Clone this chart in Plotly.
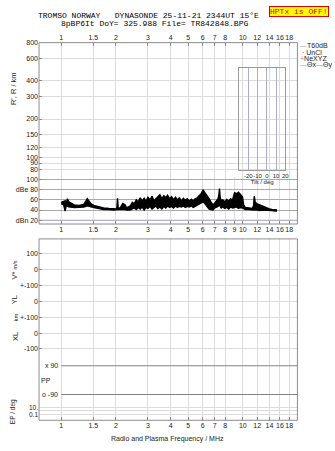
import plotly.graph_objects as go
import math

W, H = 335, 451
def px(x): return x / W
def py(y): return 1 - y / H

# ---------------- data ----------------
freq_ticks = [1, 1.5, 2, 3, 4, 5, 6, 7, 8, 10, 12, 14, 16, 18]
db_freq_ticks = [1, 1.5, 2, 3, 4, 5, 6, 7, 8, 9, 10, 12, 14, 16, 18]
freq_range = [0.754, 19.97]
range_ticks = [80, 90, 100, 120, 150, 200, 300, 400, 600, 800]
range_limits = [70, 800]
db_ticks = [100, 80, 60, 40, 20]
db_tick_labels = ["100", "dBe 80", "60", "40", "dBn 20"]
db_limits = [12.5, 105]
dbn_level = 20
stack_ticks = [300, 200, 100, 0, -100, -200, -300]
stack_labels = ["100", "0", "+-100", "0", "+-100", "0", "-100"]
stack_limits = [-350, 393.75]
pp_levels = [90, -90]
pp_labels = ["x 90", "o -90"]
pp_limits = [-127.2, 145.9]
pp_start = 1.0
ep_ticks = [10, 0.1]
ep_labels = ["10.", "0.1"]
ep_minor = [1]
ep_limits = [-2.714, 3.0]
tilt_ticks = [-20, -10, 0, 10, 20]
tilt_range = [-30, 20]

# amplitude trace (MHz, upper / lower envelope in dB)
amp_freq = [1.00, 1.03, 1.05, 1.06, 1.08, 1.10, 1.18, 1.25, 1.33, 1.39,
            1.42, 1.46, 1.51, 1.61, 1.71, 1.83, 1.94, 2.02, 2.04, 2.06,
            2.12, 2.18, 2.25, 2.29,
            2.40, 2.46, 2.52, 2.59, 2.65, 2.72, 2.79, 2.86, 2.93, 3.00,
            3.08, 3.16, 3.24, 3.32, 3.40, 3.49, 3.58, 3.67, 3.76, 3.85,
            3.95, 4.05, 4.15, 4.26, 4.36, 4.47, 4.59, 4.70, 4.82, 4.94,
            5.07, 5.20, 5.33, 5.46, 5.60, 5.74, 5.89, 6.04, 6.19, 6.34,
            6.50, 6.67, 6.84, 7.01, 7.19, 7.30, 7.38, 7.43, 7.50, 7.60,
            7.75, 7.95, 8.15, 8.35, 8.56, 8.78, 9.00, 9.23, 9.46, 9.70,
            9.95,
            10.10, 10.30, 10.80, 11.26, 11.45, 11.55, 11.70, 11.99, 12.40, 12.77,
            13.10, 13.60, 14.00, 14.48, 15.00, 15.42]
amp_hi = [55, 57, 58, 50, 62, 56, 50, 49, 51, 62,
          58, 52, 49, 46, 44, 43, 43, 42, 63, 42,
          45, 53, 50, 44,
          48, 55, 52, 60, 56, 64, 58, 63, 57, 65,
          60, 67, 58, 62, 66, 70, 62, 68, 64, 69,
          62, 66, 60, 65, 60, 64, 58, 63, 59, 62,
          57, 61, 58, 62, 64, 68, 72, 79, 74, 70,
          63, 56, 50, 54, 58, 62, 70, 82, 65, 58,
          60, 56, 61, 57, 62, 60, 74, 72, 75, 70,
          66,
          50, 45, 44, 43, 48, 67, 55, 52, 50, 48,
          45, 43, 42, 41, 41, 40]
amp_lo = [52, 50, 38, 46, 48, 46, 45, 45, 46, 48,
          47, 46, 45, 43, 41, 41, 40, 41, 41, 41,
          41, 42, 41, 40,
          40, 42, 44, 41, 45, 42, 46, 40, 45, 43,
          47, 42, 46, 48, 43, 46, 42, 47, 44, 48,
          45, 47, 44, 48, 45, 47, 46, 48, 45, 47,
          46, 48, 45, 47, 49, 52, 54, 56, 52, 46,
          42, 41, 40, 44, 46, 47, 50, 52, 47, 44,
          46, 43, 45, 42, 46, 44, 45, 46, 43, 45,
          44,
          42, 41, 41, 40, 40, 41, 40, 40, 39, 40,
          40, 39, 39, 39, 38, 38]

# ---------------- figure ----------------
FONT = "Liberation Sans, Arial, sans-serif"
MONO = "Liberation Mono, DejaVu Sans Mono, monospace"
GRID = "#dcdcdc"
TXT = "#222"

fig = go.Figure()

fig.add_trace(go.Scatter(x=freq_range, y=range_limits, xaxis="x2", yaxis="y",
                         mode="markers", marker=dict(opacity=0), hoverinfo="skip"))
fig.add_trace(go.Scatter(x=freq_range, y=[dbn_level, dbn_level], xaxis="x3", yaxis="y2",
                         mode="lines", line=dict(color="#b4b4f0", width=1)))
fig.add_trace(go.Scatter(x=amp_freq, y=amp_lo, xaxis="x3", yaxis="y2", mode="lines",
                         line=dict(color="black", width=1.4)))
fig.add_trace(go.Scatter(x=amp_freq, y=amp_hi, xaxis="x3", yaxis="y2", mode="lines",
                         line=dict(color="black", width=1.4), fill="tonexty",
                         fillcolor="black"))
fig.add_trace(go.Scatter(x=freq_range, y=[0, 0], xaxis="x", yaxis="y3",
                         mode="markers", marker=dict(opacity=0), hoverinfo="skip"))
fig.add_trace(go.Scatter(x=freq_range, y=[1, 1], xaxis="x", yaxis="y5",
                         mode="markers", marker=dict(opacity=0), hoverinfo="skip"))
for lvl in pp_levels:
    fig.add_trace(go.Scatter(x=[pp_start, freq_range[1]], y=[lvl, lvl], xaxis="x", yaxis="y4",
                             mode="lines", line=dict(color="#808080", width=1)))
fig.add_trace(go.Scatter(x=tilt_range, y=[0, 1], xaxis="x4", yaxis="y6",
                         mode="markers", marker=dict(opacity=0), hoverinfo="skip"))

xdom = [px(39.5), px(301)]
lx = [math.log10(freq_range[0]), math.log10(freq_range[1])]
tickfont = dict(family=FONT, size=7, color=TXT)

common_x = dict(type="log", range=lx, domain=xdom, tickmode="array", tickangle=0,
                showgrid=True, gridcolor=GRID, gridwidth=1, zeroline=False,
                showline=False, ticks="inside", ticklen=3, tickcolor="#888",
                tickfont=tickfont)

fig.update_layout(
    width=W, height=H, margin=dict(l=0, r=0, t=0, b=0),
    paper_bgcolor="white", plot_bgcolor="rgba(0,0,0,0)", showlegend=False,
    xaxis=dict(common_x, anchor="y5", tickvals=freq_ticks,
               ticktext=[str(v) for v in freq_ticks], side="bottom"),
    xaxis2=dict(common_x, anchor="y", tickvals=freq_ticks,
                ticktext=[str(v) for v in freq_ticks], side="top"),
    xaxis3=dict(common_x, anchor="y2", tickvals=db_freq_ticks,
                ticktext=[str(v) for v in db_freq_ticks], side="bottom"),
    xaxis4=dict(range=tilt_range, domain=[px(242), px(288.7)], anchor="y6",
                tickmode="array", tickvals=tilt_ticks, tickangle=0,
                ticktext=[str(v) for v in tilt_ticks], showgrid=True,
                gridcolor="#a8aed0", zeroline=False, showline=True, mirror=True,
                linecolor="#9a9a9a", ticks="", tickfont=dict(family=FONT, size=6, color=TXT),
                title=dict(text="Tilt / deg", font=dict(family=FONT, size=6, color=TXT),
                           standoff=0)),
    yaxis=dict(type="log", range=[math.log10(range_limits[0]), math.log10(range_limits[1])],
               domain=[py(174.4), py(39)], anchor="x2", tickmode="array",
               tickvals=range_ticks, ticktext=[str(v) for v in range_ticks],
               showgrid=True, gridcolor=GRID, zeroline=False, ticks="inside",
               ticklen=3, tickcolor="#888", tickfont=tickfont),
    yaxis2=dict(range=db_limits, domain=[py(222), py(174.4)], anchor="x3",
                tickmode="array", tickvals=db_ticks, ticktext=db_tick_labels,
                showgrid=True, gridcolor="#a8a8a8", zeroline=False, ticks="inside",
                ticklen=3, tickcolor="#888", tickfont=tickfont),
    yaxis3=dict(range=stack_limits, domain=[py(356), py(237)], anchor="x",
                tickmode="array", tickvals=stack_ticks, ticktext=stack_labels,
                showgrid=True, gridcolor=GRID, zeroline=False, ticks="inside",
                ticklen=3, tickcolor="#888", tickfont=tickfont),
    yaxis4=dict(range=pp_limits, domain=[py(400), py(356)], anchor="x",
                showgrid=False, zeroline=False, showticklabels=False, ticks=""),
    yaxis5=dict(type="log", range=ep_limits, domain=[py(420), py(400)], anchor="x",
                tickmode="array", tickvals=ep_ticks, ticktext=ep_labels,
                showgrid=True, gridcolor=GRID, zeroline=False, ticks="",
                tickfont=dict(family=FONT, size=6.5, color=TXT),
                minor=dict(tickvals=ep_minor, showgrid=True, gridcolor=GRID)),
    yaxis6=dict(range=[0, 1], domain=[py(167), py(65)], anchor="x4",
                showgrid=False, zeroline=False, showticklabels=False, ticks="",
                showline=True, mirror=True, linecolor="#9a9a9a"),
)

for (y0, y1) in [(39, 222), (237, 420)]:
    fig.add_shape(type="rect", xref="paper", yref="paper", x0=px(39.5), x1=px(301),
                  y0=py(y1), y1=py(y0), line=dict(color="#8c8c8c", width=1))

ann = []
def A(text, x, y, size=7, xanchor="center", angle=0, family=FONT, color=TXT, **kw):
    ann.append(dict(text=text, x=px(x), y=py(y), xref="paper", yref="paper",
                    showarrow=False, xanchor=xanchor, yanchor="middle", textangle=angle,
                    font=dict(family=family, size=size, color=color), **kw))

A("TROMSO NORWAY   DYNASONDE 25-11-21 2344UT 15°E", 150, 12, size=8, family=MONO, color="black")
A("8pBP6It DoY= 325.988 File= TR842848.BPG", 156, 20, size=8, family=MONO, color="black")
A("HPTx is OFF!", 302.5, 7.5, size=8, family=MONO, color="#e00000",
  bgcolor="#ffff00", bordercolor="#e00000", borderwidth=1, borderpad=0)

A('<span style="color:#aaaaaa">—</span>T60dB', 302, 42, size=7, xanchor="left")
A(' · UnCl', 302, 48.5, size=7, xanchor="left")
A('<span style="color:#f07090">+</span>NeXYZ', 302, 55, size=7, xanchor="left")
A('<span style="color:#f08080">—</span>Θx<span style="color:#8080e0">—</span>Θy', 302, 62,
  size=7, xanchor="left")

A("R', R / km", 13, 85, size=7.5, angle=-90)
A("V* <span style='font-size:5.5px'>m/s</span>", 15, 268, size=7.5, angle=-90)
A("YL", 15, 298, size=7.5, angle=-90)
A("XL     <span style='font-size:6px'>km</span>", 15, 326, size=7.5, angle=-90)
A("EP / deg", 14, 411, size=6.5, angle=-90)
A("Radio and Plasma Frequency / MHz", 170, 439, size=7)
A("PP", 46.5, 380, size=7)

fig.update_layout(annotations=ann)
for lvl, lab in zip(pp_levels, pp_labels):
    fig.add_annotation(text=lab, x=math.log10(pp_start), y=lvl, xref="x", yref="y4",
                       showarrow=False, xanchor="right", yanchor="middle", xshift=-1,
                       font=dict(family=FONT, size=7, color=TXT))

fig.write_html("out.html")
